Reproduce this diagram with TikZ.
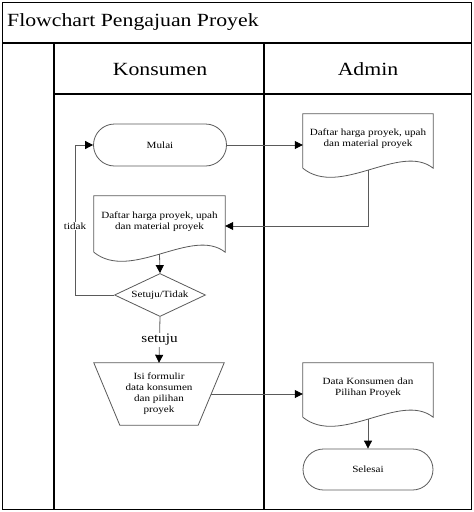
\documentclass[tikz,border=0pt]{standalone}
\usepackage{fontspec}
\setmainfont{Liberation Serif}[FakeStretch=1.17]
\usetikzlibrary{shapes.geometric,shapes.misc,arrows.meta,calc}
\definecolor{shp}{HTML}{5A5A5A}
\tikzset{
  frame/.style={line width=1.3pt, draw=black},
  shapeline/.style={draw=shp, line width=0.8pt},
  small/.style={font=\fontsize{9.5}{11}\selectfont, align=center},
  terminal/.style={rounded rectangle, shapeline, small, minimum width=133pt, minimum height=42pt, inner sep=0pt},
  docbox/.style={draw=none, small, inner sep=0pt},
  decision/.style={diamond, shapeline, small, aspect=2.12, minimum width=91pt, minimum height=43pt, inner sep=0pt},
  conn/.style={draw=shp, line width=0.8pt, -{Triangle[length=8pt,width=8pt,fill=black,color=black]}},
  lbl/.style={fill=white, inner sep=1pt}
}
\newcommand\docwave[1]{%
  \draw[shapeline] (#1.south west) -- (#1.north west) -- (#1.north east) -- (#1.south east)
    .. controls +(-33,-26) and +(37,30) .. (#1.south west);}
\begin{document}
\begin{tikzpicture}[x=1pt,y=-1pt]
\useasboundingbox (0,0) rectangle (474,512);
% frame and lanes
\draw[frame] (2.5,2.5) rectangle (471.5,509.5);
\draw[frame] (2.5,43) -- (471.5,43);
\draw[frame] (54,43) -- (54,509.5);
\draw[frame] (264,43) -- (264,509.5);
\draw[frame] (54,94) -- (471.5,94);
\node[anchor=west, font=\fontsize{18.6}{20}\selectfont, inner sep=0pt] (title) at (7,22) {Flowchart Pengajuan Proyek};
\node[font=\fontsize{18.6}{20}\selectfont] (konsumen) at (160,69) {Konsumen};
\node[font=\fontsize{18.6}{20}\selectfont] (admin) at (368,69) {Admin};
% shapes
\node[terminal] (mulai) at (160,145) {Mulai};
\node[docbox, minimum width=130pt, minimum height=54pt, text depth=6pt] (doc1) at (368,141) {Daftar harga proyek, upah\\dan material proyek};
\docwave{doc1}
\node[docbox, minimum width=131pt, minimum height=56pt, text depth=6pt] (doc2) at (159.5,224) {Daftar harga proyek, upah\\dan material proyek};
\docwave{doc2}
\node[decision] (dia) at (160,295) {Setuju/Tidak};
\node[draw=none, small, minimum width=78pt, minimum height=62pt, inner sep=0pt] (trap) at (159,394) {Isi formulir\\data konsumen\\dan pilihan\\proyek};
\draw[shapeline] (trap.south west) -- (trap.south east) -- ([xshift=26pt]trap.north east) -- ([xshift=-26pt]trap.north west) -- cycle;
\coordinate (trapE) at ($(trap.east)+(13,0)$);
\node[docbox, minimum width=130pt, minimum height=54pt, text depth=6pt] (doc3) at (368,390) {Data Konsumen dan\\Pilihan Proyek};
\docwave{doc3}
\node[terminal, minimum width=130pt, minimum height=41pt] (selesai) at (368,469.5) {Selesai};
% connectors
\draw[conn] (mulai.east) -- (mulai.east -| doc1.west);
\draw[conn] ([yshift=-2pt]doc1.south) |- ([yshift=-2pt]doc2.east);
\draw[conn] ([yshift=-2pt]doc2.south) -- (dia.north);
\draw[conn] (dia.west) -- ++(-39,0) |- node[pos=0.23, lbl, font=\fontsize{9.5}{11}\selectfont] {tidak} (mulai.west);
\draw[conn] (dia.south) -- node[lbl, font=\fontsize{13}{14}\selectfont] {setuju} (trap.north);
\draw[conn] (trapE) -- (trapE -| doc3.west);
\draw[conn] ([yshift=-2pt]doc3.south) -- (selesai.north);
\end{tikzpicture}
\end{document}
